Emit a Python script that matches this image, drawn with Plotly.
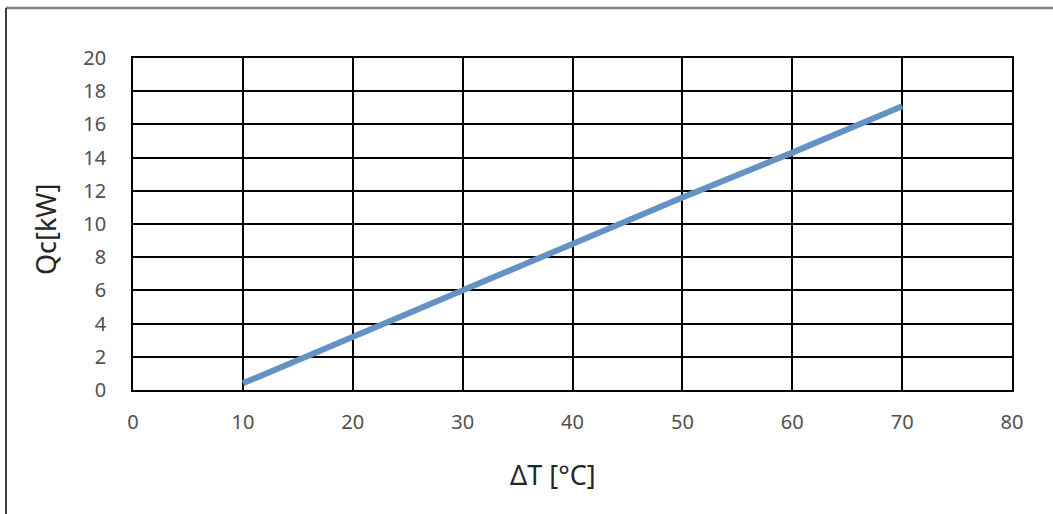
import plotly.graph_objects as go

delta_t = [10, 20, 30, 40, 50, 60, 70]
qc_kw = [0.4, 3.2, 6.0, 8.8, 11.6, 14.3, 17.1]

x_ticks = [0, 10, 20, 30, 40, 50, 60, 70, 80]
y_ticks = [0, 2, 4, 6, 8, 10, 12, 14, 16, 18, 20]

W, H = 1053, 514
L, R, T, B = 133, 41, 58, 124
pw, ph = W - L - R, H - T - B

def px(x):
    return (x - L) / pw

def py(y):
    return (H - B - y) / ph

fig = go.Figure()
fig.add_trace(go.Scatter(
    x=delta_t, y=qc_kw, mode="lines",
    line=dict(color="#6392c4", width=6),
    showlegend=False, hoverinfo="skip",
))

tickfont = dict(family="Noto Sans, Lato, sans-serif", size=20, color="#505050")
titlefont = dict(family="Noto Sans, Lato, sans-serif", size=27, color="#262626")

fig.update_layout(
    width=W, height=H,
    margin=dict(l=L, r=R, t=T, b=B),
    paper_bgcolor="white", plot_bgcolor="white",
    xaxis=dict(
        range=[0, 80], tickvals=x_ticks, ticktext=[str(v) for v in x_ticks],
        showgrid=True, gridcolor="black", gridwidth=1.5,
        showline=True, linecolor="black", linewidth=1.5, mirror=True,
        zeroline=False, ticks="", tickfont=tickfont, ticklabelstandoff=13,
    ),
    yaxis=dict(
        range=[0, 20], tickvals=y_ticks, ticktext=[str(v) for v in y_ticks],
        showgrid=True, gridcolor="black", gridwidth=1.5,
        showline=True, linecolor="black", linewidth=1.5, mirror=True,
        zeroline=False, ticks="", tickfont=tickfont, ticklabelstandoff=21,
    ),
    annotations=[
        dict(text="ΔT [°C]", xref="paper", yref="paper", x=px(553), y=py(474),
             xanchor="center", yanchor="middle", showarrow=False, font=titlefont),
        dict(text="Qc[kW]", xref="paper", yref="paper", x=px(45), y=py(230),
             xanchor="center", yanchor="middle", showarrow=False, font=titlefont,
             textangle=-90),
    ],
    shapes=[
        dict(type="line", xref="paper", yref="paper",
             x0=px(6), x1=px(W + 5), y0=py(8), y1=py(8),
             line=dict(color="#7f7f7f", width=2.5)),
        dict(type="line", xref="paper", yref="paper",
             x0=px(6), x1=px(6), y0=py(8), y1=py(H + 5),
             line=dict(color="#404040", width=2)),
    ],
)

fig.write_html("out.html")
